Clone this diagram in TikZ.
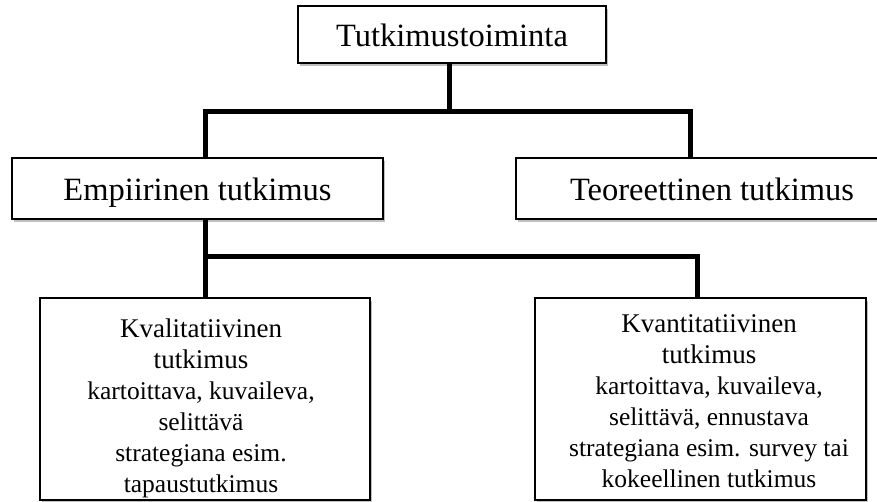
\documentclass[tikz,border=0pt]{standalone}
\usepackage{fontspec}
\setmainfont{Liberation Serif}
\usetikzlibrary{shadows}

\newcommand{\kvhead}{\fontsize{27}{31}\selectfont}
\newcommand{\kvbody}{\fontsize{25.5}{31}\selectfont}

\begin{document}
\begin{tikzpicture}[x=1pt, y=-1pt]
            \tikzstyle{box} = [draw=black, line width=1.2pt, fill=white, inner sep=0pt,
                               drop shadow={opacity=0.5, shadow xshift=2pt, shadow yshift=-3pt}]
            \tikzstyle{link} = [line width=5pt]
            \tikzstyle{big} = [font=\fontsize{32.5}{38}\selectfont, text height=30pt, text depth=6pt]
            \tikzstyle{txt} = [align=center, inner sep=0pt, anchor=north, font=\kvbody]

            \useasboundingbox (0,0) rectangle (877,502);

            \node[box, big, minimum width=308pt, minimum height=57pt] (top) at (452, 34.5) {Tutkimustoiminta};
            \node[box, big, minimum width=371pt, minimum height=61pt] (emp) at (197.5, 188.5) {Empiirinen tutkimus};
            \node[box, minimum width=420pt, minimum height=61pt] (teo) at (726, 188.5) {};
            \node[big] (teotext) at (712, 188.5) {Teoreettinen tutkimus};

            \node[box, minimum width=330pt, minimum height=202pt] (kval) at (205, 399) {};
            \node[box, minimum width=331pt, minimum height=202pt] (kvan) at (700.5, 399) {};

            \node[txt] (kvaltext) at (201, 318.5) {%
              \kvhead Kvalitatiivinen\\ \kvhead tutkimus\\
              kartoittava, kuvaileva,\\ selittävä\\
              strategiana esim.\\ tapaustutkimus};
            \node[txt] (kvantext) at (709, 314.5) {%
              \kvhead Kvantitatiivinen\\ \kvhead tutkimus\\
              kartoittava, kuvaileva,\\ selittävä, ennustava\\
              strategiana esim. survey tai\\ kokeellinen tutkimus};

            \coordinate (a) at (449, 112);
            \coordinate (b) at (205, 112);
            \coordinate (c) at (690, 112);
            \coordinate (d) at (205, 257);
            \coordinate (e) at (697, 257);

            \draw [link] (top.south -| a) -- (a);
            \draw [link, line cap=rect] (b) -- (c);
            \draw [link] (b) -- (b |- emp.north);
            \draw [link] (c) -- (c |- teo.north);
            \draw [link] (emp.south -| d) -- (d |- kval.north);
            \draw [link] (d) -- (e) -- (e |- kvan.north);
          \end{tikzpicture}
\end{document}
